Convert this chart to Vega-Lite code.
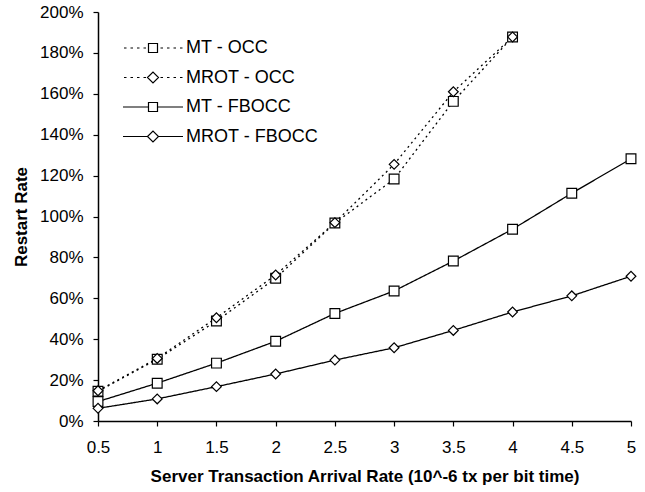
{
  "$schema": "https://vega.github.io/schema/vega-lite/v6.json",
  "autosize": {"type": "none"},
  "width": 533,
  "height": 409,
  "padding": {"left": 98, "top": 12, "right": 14, "bottom": 71},
  "background": "white",
  "config": {
    "view": {"stroke": null},
    "font": "Liberation Sans",
    "axis": {
      "grid": false,
      "domainColor": "black",
      "domainWidth": 1.5,
      "tickColor": "black",
      "tickWidth": 1.2,
      "tickSize": 5,
      "labelColor": "black",
      "labelFont": "Liberation Sans",
      "labelFontSize": 17,
      "labelFlush": false,
      "labelOverlap": false,
      "titleColor": "black",
      "titleFont": "Liberation Sans",
      "titleFontSize": 17,
      "titleFontWeight": "bold"
    },
    "legend": {
      "labelFont": "Liberation Sans",
      "labelFontSize": 18,
      "labelColor": "black",
      "padding": 0
    }
  },
  "data": {
    "values": [
      {"series": "MT - OCC", "rate": 0.5, "restart": 14.5},
      {"series": "MT - OCC", "rate": 1, "restart": 30.2},
      {"series": "MT - OCC", "rate": 1.5, "restart": 48.9},
      {"series": "MT - OCC", "rate": 2, "restart": 69.8},
      {"series": "MT - OCC", "rate": 2.5, "restart": 96.8},
      {"series": "MT - OCC", "rate": 3, "restart": 118.3},
      {"series": "MT - OCC", "rate": 3.5, "restart": 156.3},
      {"series": "MT - OCC", "rate": 4, "restart": 187.8},
      {"series": "MROT - OCC", "rate": 0.5, "restart": 14.8},
      {"series": "MROT - OCC", "rate": 1, "restart": 30.6},
      {"series": "MROT - OCC", "rate": 1.5, "restart": 50.5},
      {"series": "MROT - OCC", "rate": 2, "restart": 71.4},
      {"series": "MROT - OCC", "rate": 2.5, "restart": 97.0},
      {"series": "MROT - OCC", "rate": 3, "restart": 125.5},
      {"series": "MROT - OCC", "rate": 3.5, "restart": 161.0},
      {"series": "MROT - OCC", "rate": 4, "restart": 187.8},
      {"series": "MT - FBOCC", "rate": 0.5, "restart": 9.5},
      {"series": "MT - FBOCC", "rate": 1, "restart": 18.5},
      {"series": "MT - FBOCC", "rate": 1.5, "restart": 28.3},
      {"series": "MT - FBOCC", "rate": 2, "restart": 39.0},
      {"series": "MT - FBOCC", "rate": 2.5, "restart": 52.6},
      {"series": "MT - FBOCC", "rate": 3, "restart": 63.6},
      {"series": "MT - FBOCC", "rate": 3.5, "restart": 78.2},
      {"series": "MT - FBOCC", "rate": 4, "restart": 93.8},
      {"series": "MT - FBOCC", "rate": 4.5, "restart": 111.4},
      {"series": "MT - FBOCC", "rate": 5, "restart": 128.2},
      {"series": "MROT - FBOCC", "rate": 0.5, "restart": 6.2},
      {"series": "MROT - FBOCC", "rate": 1, "restart": 10.8},
      {"series": "MROT - FBOCC", "rate": 1.5, "restart": 16.8},
      {"series": "MROT - FBOCC", "rate": 2, "restart": 23.0},
      {"series": "MROT - FBOCC", "rate": 2.5, "restart": 29.8},
      {"series": "MROT - FBOCC", "rate": 3, "restart": 35.8},
      {"series": "MROT - FBOCC", "rate": 3.5, "restart": 44.3},
      {"series": "MROT - FBOCC", "rate": 4, "restart": 53.3},
      {"series": "MROT - FBOCC", "rate": 4.5, "restart": 61.2},
      {"series": "MROT - FBOCC", "rate": 5, "restart": 70.8}
    ]
  },
  "encoding": {
    "x": {
      "field": "rate", "type": "quantitative",
      "scale": {"domain": [0.5, 5], "nice": false, "zero": false},
      "axis": {
        "values": [0.5, 1, 1.5, 2, 2.5, 3, 3.5, 4, 4.5, 5],
        "format": "~g",
        "labelPadding": 13,
        "titlePadding": 13,
        "title": "Server Transaction Arrival Rate (10^-6 tx per bit time)"
      }
    },
    "y": {
      "field": "restart", "type": "quantitative",
      "scale": {"domain": [0, 200], "nice": false},
      "axis": {
        "values": [0, 20, 40, 60, 80, 100, 120, 140, 160, 180, 200],
        "labelExpr": "datum.value + '%'",
        "labelPadding": 10,
        "titlePadding": 9,
        "title": "Restart Rate"
      }
    }
  },
  "layer": [
    {
      "mark": {"type": "line", "color": "black", "strokeWidth": 1.3},
      "encoding": {
        "strokeDash": {
          "field": "series", "type": "nominal",
          "scale": {
            "domain": ["MT - OCC", "MROT - OCC", "MT - FBOCC", "MROT - FBOCC"],
            "range": [[2, 3.5], [2, 3.5], [1, 0], [1, 0]]
          },
          "legend": null
        }
      }
    },
    {
      "mark": {"type": "point", "filled": true, "fill": "white", "stroke": "black", "strokeWidth": 1.2, "size": 95, "opacity": 1},
      "encoding": {
        "shape": {
          "field": "series", "type": "nominal",
          "scale": {
            "domain": ["MT - OCC", "MROT - OCC", "MT - FBOCC", "MROT - FBOCC"],
            "range": ["square", "diamond", "square", "diamond"]
          },
          "legend": null
        }
      }
    },
    {
      "transform": [{"filter": "false"}],
      "mark": {"type": "point", "filled": false, "color": "black", "strokeWidth": 1.2},
      "encoding": {
        "shape": {
          "field": "series", "type": "nominal",
          "scale": {
            "domain": ["MT - OCC", "MROT - OCC", "MT - FBOCC", "MROT - FBOCC"],
            "range": [
              "M-5.8,0H-5.3M-4.5,0H-4M-3.2,0H-2.7M-1.9,0H-1.4M-0.9,-0.9H0.9V0.9H-0.9ZM1.5,0H2M2.8,0H3.3M4.1,0H4.6M5.4,0H5.9",
              "M-5.8,0H-5.3M-4.5,0H-4M-3.2,0H-2.7M-1.9,0H-1.4M-1.1,0L0,-1.1L1.1,0L0,1.1ZM1.5,0H2M2.8,0H3.3M4.1,0H4.6M5.4,0H5.9",
              "M-6,0H-0.9M0.9,0H6M-0.9,-0.9H0.9V0.9H-0.9Z",
              "M-6,0H-1.1M1.1,0H6M-1.1,0L0,-1.1L1.1,0L0,1.1Z"
            ]
          },
          "legend": {
            "title": null,
            "orient": "none",
            "legendX": 46,
            "legendY": 27,
            "symbolSize": 100,
            "symbolStrokeWidth": 1.2,
            "symbolStrokeColor": "black",
            "symbolFillColor": "transparent",
            "symbolOpacity": 1,
            "labelOffset": 24,
            "rowPadding": 11.5
          }
        }
      }
    }
  ],
  "resolve": {"scale": {"shape": "independent", "strokeDash": "independent"}}
}
